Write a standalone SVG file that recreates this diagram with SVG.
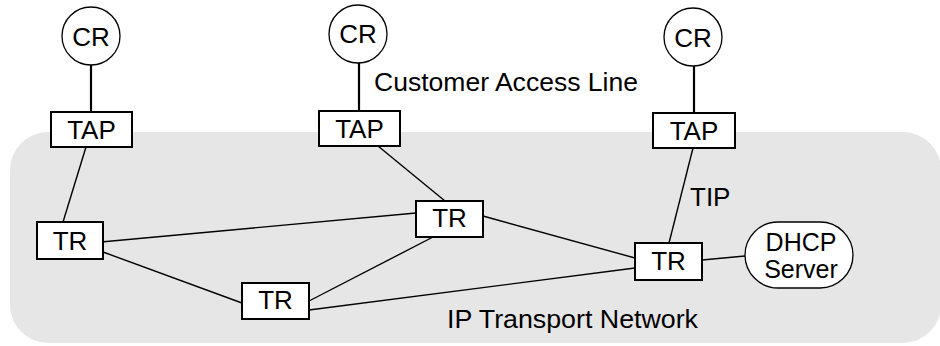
<svg xmlns="http://www.w3.org/2000/svg" width="940" height="346" viewBox="0 0 940 346">
<style>
text{font-family:"Liberation Sans",Arial,sans-serif;font-size:26px;fill:#000}
.c{text-anchor:middle}
.box{fill:#fff;stroke:#000;stroke-width:2}
.circ{fill:#fff;stroke:#000;stroke-width:1.3}
.ln{stroke:#000;stroke-width:1.4;fill:none}
.thick{stroke:#000;stroke-width:2.2;fill:none}
.sm{font-size:25px}
</style>
<rect id="network" x="10" y="132" width="931" height="211" rx="38" fill="#e6e6e6"/>
<g id="connectors">
<line class="thick" x1="91" y1="64" x2="91" y2="112"/>
<line class="thick" x1="359" y1="63" x2="359" y2="111"/>
<line class="thick" x1="694" y1="66" x2="694" y2="113"/>
<line class="ln" x1="86" y1="147" x2="63" y2="222"/>
<line class="ln" x1="378" y1="146" x2="445" y2="201"/>
<line class="ln" x1="693" y1="148" x2="669" y2="243"/>
<line class="ln" x1="101" y1="242" x2="416" y2="213"/>
<line class="ln" x1="103" y1="252" x2="242" y2="303"/>
<line class="ln" x1="309" y1="301" x2="433" y2="237"/>
<line class="ln" x1="309" y1="310" x2="635" y2="268"/>
<line class="ln" x1="483" y1="216" x2="635" y2="258"/>
<line class="ln" x1="702" y1="260" x2="745" y2="256"/>
</g>
<g id="cr1"><circle class="circ" cx="91" cy="36" r="29"/><text class="c" x="91" y="46">CR</text></g>
<g id="cr2"><circle class="circ" cx="358" cy="34" r="29"/><text class="c" x="358" y="43">CR</text></g>
<g id="cr3"><circle class="circ" cx="693" cy="37" r="29"/><text class="c" x="693" y="47">CR</text></g>
<g id="tap1"><rect class="box" x="51" y="112" width="81" height="35"/><text class="c" x="91.5" y="139">TAP</text></g>
<g id="tap2"><rect class="box" x="319" y="111" width="81" height="35"/><text class="c" x="359.5" y="138">TAP</text></g>
<g id="tap3"><rect class="box" x="653" y="113" width="82" height="35"/><text class="c" x="694" y="140">TAP</text></g>
<g id="tr1"><rect class="box" x="37" y="222" width="66" height="37"/><text class="c" x="70" y="250">TR</text></g>
<g id="tr2"><rect class="box" x="242" y="283" width="67" height="36"/><text class="c" x="275.5" y="309">TR</text></g>
<g id="tr3"><rect class="box" x="416" y="201" width="67" height="36"/><text class="c" x="449.5" y="227">TR</text></g>
<g id="tr4"><rect class="box" x="635" y="243" width="67" height="37"/><text class="c" x="668.5" y="270">TR</text></g>
<g id="dhcp"><rect class="circ" x="745" y="222" width="108" height="66" rx="33"/><text class="c sm" x="801" y="251">DHCP</text><text class="c sm" x="801" y="278">Server</text></g>
<text x="374" y="91" textLength="264" lengthAdjust="spacingAndGlyphs">Customer Access Line</text>
<text x="690" y="206">TIP</text>
<text x="447" y="328" textLength="251" lengthAdjust="spacingAndGlyphs">IP Transport Network</text>
</svg>
